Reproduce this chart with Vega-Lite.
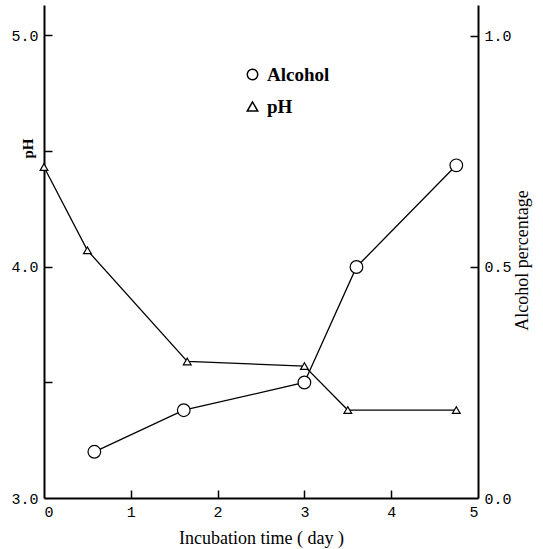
{
  "$schema": "https://vega.github.io/schema/vega-lite/v6.json",
  "width": 434,
  "height": 493,
  "autosize": {"type": "none"},
  "padding": {"left": 44, "top": 5, "right": 65, "bottom": 51},
  "background": "white",
  "config": {
    "view": {"stroke": null},
    "axis": {
      "domainColor": "black",
      "domainWidth": 2,
      "tickColor": "black",
      "tickWidth": 1.5,
      "tickSize": 8,
      "grid": false,
      "labelFont": "Liberation Mono",
      "labelFontSize": 15,
      "labelColor": "black",
      "titleColor": "black",
      "titleFont": "Liberation Serif"
    }
  },
  "data": {
    "values": [
      {"day": 0, "value": 4.43, "series": "pH"},
      {"day": 0.5, "value": 4.07, "series": "pH"},
      {"day": 1.65, "value": 3.59, "series": "pH"},
      {"day": 3.0, "value": 3.57, "series": "pH"},
      {"day": 3.5, "value": 3.38, "series": "pH"},
      {"day": 4.75, "value": 3.38, "series": "pH"},
      {"day": 0.58, "value": 0.1, "series": "Alcohol"},
      {"day": 1.61, "value": 0.19, "series": "Alcohol"},
      {"day": 3.0, "value": 0.25, "series": "Alcohol"},
      {"day": 3.6, "value": 0.5, "series": "Alcohol"},
      {"day": 4.75, "value": 0.72, "series": "Alcohol"}
    ]
  },
  "layer": [
    {
      "transform": [{"filter": "datum.series === 'pH'"}],
      "encoding": {
        "x": {
          "field": "day",
          "type": "quantitative",
          "scale": {"domain": [0, 5], "nice": false, "zero": false},
          "axis": {
            "orient": "bottom",
            "values": [0, 1, 2, 3, 4, 5],
            "format": "d",
            "ticks": false,
            "labelPadding": 6,
            "title": "Incubation time ( day )",
            "titleFontSize": 18,
            "titleFontWeight": "normal",
            "titleX": 217,
            "titleY": 40,
            "titleBaseline": "middle",
            "titleAlign": "center"
          }
        }
      },
      "layer": [
        {
          "mark": {"type": "line", "color": "black", "strokeWidth": 1.3},
          "encoding": {
            "y": {
              "field": "value",
              "type": "quantitative",
              "scale": {"domain": [3, 5.13], "nice": false, "zero": false},
              "axis": {
                "orient": "left",
                "values": [3, 4, 5],
                "format": ".1f",
                "ticks": false,
                "labelPadding": 6,
                "title": "pH",
                "titleFontSize": 15,
                "titleFontWeight": "bold",
                "titleAngle": -90,
                "titleX": -17,
                "titleY": 143,
                "titleBaseline": "middle",
                "titleAlign": "center"
              }
            }
          }
        },
        {
          "mark": {"type": "point", "filled": true, "fill": "white", "stroke": "black", "strokeWidth": 1.2, "size": 60, "opacity": 1},
          "encoding": {
            "y": {
              "field": "value",
              "type": "quantitative",
              "scale": {"domain": [3, 5.13], "nice": false, "zero": false},
              "axis": {
                "orient": "left",
                "offset": -8,
                "values": [3.5, 4, 4.5, 5],
                "domain": false,
                "labels": false,
                "title": null
              }
            },
            "shape": {
              "field": "series",
              "type": "nominal",
              "scale": {"domain": ["Alcohol", "pH"], "range": ["circle", "triangle-up"]},
              "legend": {
                "orient": "none",
                "legendX": 199,
                "legendY": 60,
                "title": null,
                "padding": 0,
                "labelFont": "Liberation Serif",
                "labelFontWeight": "bold",
                "labelFontSize": 19,
                "labelColor": "black",
                "labelOffset": 5,
                "rowPadding": 12,
                "symbolSize": 110,
                "encode": {
                  "symbols": {
                    "update": {
                      "fill": {"value": "white"},
                      "stroke": {"value": "black"},
                      "strokeWidth": {"value": 1.2},
                      "opacity": {"value": 1}
                    }
                  }
                }
              }
            }
          }
        }
      ],
      "resolve": {"axis": {"y": "independent"}}
    },
    {
      "transform": [{"filter": "datum.series === 'Alcohol'"}],
      "encoding": {
        "x": {
          "field": "day",
          "type": "quantitative",
          "scale": {"domain": [0, 5], "nice": false, "zero": false},
          "axis": {
            "orient": "bottom",
            "offset": -8,
            "values": [1, 2, 3, 4],
            "domain": false,
            "labels": false,
            "title": null
          }
        }
      },
      "layer": [
        {
          "mark": {"type": "line", "color": "black", "strokeWidth": 1.3},
          "encoding": {
            "y": {
              "field": "value",
              "type": "quantitative",
              "scale": {"domain": [0, 1.067], "nice": false, "zero": false},
              "axis": {
                "orient": "right",
                "values": [0, 0.5, 1],
                "format": ".1f",
                "ticks": false,
                "labelPadding": 6,
                "title": "Alcohol percentage",
                "titleFontSize": 18,
                "titleFontWeight": "normal",
                "titleAngle": -90,
                "titleX": 44,
                "titleY": 255,
                "titleBaseline": "middle",
                "titleAlign": "center"
              }
            }
          }
        },
        {
          "mark": {"type": "point", "filled": true, "fill": "white", "stroke": "black", "strokeWidth": 1.2, "size": 160, "opacity": 1},
          "encoding": {
            "y": {
              "field": "value",
              "type": "quantitative",
              "scale": {"domain": [0, 1.067], "nice": false, "zero": false},
              "axis": {
                "orient": "right",
                "offset": -8,
                "values": [0.5, 1],
                "domain": false,
                "labels": false,
                "title": null
              }
            },
            "shape": {"field": "series", "type": "nominal"}
          }
        }
      ],
      "resolve": {"axis": {"y": "independent"}}
    }
  ],
  "resolve": {"scale": {"y": "independent"}, "axis": {"y": "independent", "x": "independent"}}
}
